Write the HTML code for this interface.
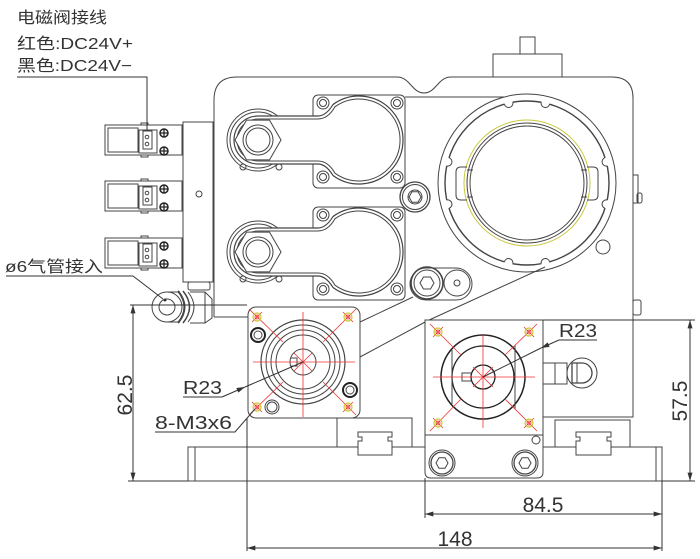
<!DOCTYPE html>
<html><head><meta charset="utf-8">
<style>html,body{margin:0;padding:0;background:#fff}svg{display:block}</style>
</head>
<body>
<svg width="700" height="559" viewBox="0 0 700 559" xmlns="http://www.w3.org/2000/svg">
<defs>
<marker id="a" viewBox="0 0 10 6" refX="10" refY="3" markerWidth="9" markerHeight="5" markerUnits="userSpaceOnUse" orient="auto-start-reverse"><path d="M0,0 L10,3 L0,6 z" fill="#333"/></marker>
</defs>
<rect width="700" height="559" fill="#fff"/>

<!-- base -->
<g fill="none" stroke="#444" stroke-width="1">
<rect x="188" y="447" width="474" height="34"/>
<line x1="195" y1="447" x2="195" y2="481"/>
<line x1="656" y1="447" x2="656" y2="481"/>
<!-- rails -->
<rect x="337" y="418" width="75" height="29" fill="#fff"/>
<path d="M358,432 H392 V437 H388 V441 H392 V455 H358 V441 H362 V437 H358 Z" fill="#fff"/>
<rect x="555" y="420" width="75" height="27" fill="#fff"/>
<path d="M576,432 H611 V437 H607 V441 H611 V455 H576 V441 H580 V437 H576 Z" fill="#fff"/>

<!-- main body outline -->
<path d="M214,317 V100 Q214,77 237,77 H397 C410,77 412,93 424,93 C436,93 438,77 451,77 H612 Q633,77 633,98 V417 H543"/>
<line x1="214" y1="317" x2="248" y2="317"/>
<line x1="405" y1="97" x2="504" y2="97"/>
<rect x="633" y="175" width="5" height="28"/>
<rect x="637" y="193" width="5" height="10" rx="2"/>
<rect x="633" y="300" width="8" height="15" rx="2"/>
<!-- top boss -->
<rect x="493" y="54" width="69" height="23"/>
<rect x="520" y="37" width="15" height="17"/>

<!-- arm 1 -->
<circle cx="258" cy="140" r="31"/>
<circle cx="258" cy="140" r="28"/>
<circle cx="243" cy="167" r="3"/><circle cx="279" cy="167" r="3"/>
<rect x="313" y="95" width="92" height="93" rx="5"/>
<circle cx="323" cy="103" r="6"/><circle cx="323" cy="103" r="3.5"/>
<circle cx="397" cy="103" r="6"/><circle cx="397" cy="103" r="3.5"/>
<circle cx="323" cy="177" r="6"/><circle cx="323" cy="177" r="3.5"/>
<circle cx="397" cy="177" r="6"/><circle cx="397" cy="177" r="3.5"/>
<path d="M258,116 H318 Q326,116 333,104.5 A44,44 0 1 1 333,175.5 Q326,164 318,164 H258 A24,24 0 0 1 258,116 Z" fill="#fff" stroke-width="1.2"/>
<path d="M258,119 H318 Q328,119 335,106.8 A41,41 0 1 1 335,173.2 Q328,161 318,161 H258 A21,21 0 0 1 258,119 Z"/>
<polygon points="281,140 269.5,120.1 246.5,120.1 235,140 246.5,159.9 269.5,159.9" fill="#fff"/>
<circle cx="258" cy="140" r="15"/><circle cx="258" cy="140" r="12"/>

<!-- arm 2 -->
<circle cx="258" cy="252" r="31"/>
<circle cx="258" cy="252" r="28"/>
<circle cx="243" cy="279" r="3"/><circle cx="279" cy="279" r="3"/>
<rect x="313" y="207" width="92" height="93" rx="5"/>
<circle cx="323" cy="215" r="6"/><circle cx="323" cy="215" r="3.5"/>
<circle cx="397" cy="215" r="6"/><circle cx="397" cy="215" r="3.5"/>
<circle cx="323" cy="289" r="6"/><circle cx="323" cy="289" r="3.5"/>
<circle cx="397" cy="289" r="6"/><circle cx="397" cy="289" r="3.5"/>
<path d="M258,228 H318 Q326,228 333,216.5 A44,44 0 1 1 333,287.5 Q326,276 318,276 H258 A24,24 0 0 1 258,228 Z" fill="#fff" stroke-width="1.2"/>
<path d="M258,231 H318 Q328,231 335,218.8 A41,41 0 1 1 335,285.2 Q328,273 318,273 H258 A21,21 0 0 1 258,231 Z"/>
<polygon points="281,252 269.5,232.1 246.5,232.1 235,252 246.5,271.9 269.5,271.9" fill="#fff"/>
<circle cx="258" cy="252" r="15"/><circle cx="258" cy="252" r="12"/>

<!-- screws -->
<circle cx="415" cy="197" r="15" stroke-width="1.3"/>
<circle cx="415" cy="197" r="12.5"/>
<circle cx="415" cy="197" r="7"/>
<polygon points="421,197 418,191.8 412,191.8 409,197 412,202.2 418,202.2"/>
<rect x="410" y="268" width="62" height="32" rx="16"/>
<circle cx="427" cy="283" r="16" stroke-width="1.6"/>
<circle cx="427" cy="283" r="13"/>
<polygon points="434,283 430.5,277 423.5,277 420,283 423.5,289 430.5,289"/>
<circle cx="457" cy="283" r="13"/>
<circle cx="457" cy="283" r="3"/>

<!-- housing -->
<circle cx="527" cy="183" r="89"/>
<circle cx="527" cy="183" r="82" stroke-width="1.4"/>
</g>
<g fill="#fff" stroke="none">
<circle cx="545.4" cy="103.1" r="4.2"/><circle cx="508.6" cy="103.1" r="4.2"/>
<circle cx="545.4" cy="262.9" r="4.2"/><circle cx="508.6" cy="262.9" r="4.2"/>
<circle cx="606.2" cy="161.8" r="4.2"/><circle cx="606.2" cy="204.2" r="4.2"/>
<circle cx="447.8" cy="161.8" r="4.2"/><circle cx="447.8" cy="204.2" r="4.2"/>
</g>
<g fill="none" stroke="#444" stroke-width="1">
<path d="M541.2,102.2 A4.3,4.3 0 0 0 549.6,104.2"/>
<path d="M504.4,104.2 A4.3,4.3 0 0 0 512.8,102.2"/>
<path d="M549.6,261.8 A4.3,4.3 0 0 0 541.2,263.8"/>
<path d="M512.8,263.8 A4.3,4.3 0 0 0 504.4,261.8"/>
<path d="M605,157.7 A4.3,4.3 0 0 0 607.2,166"/>
<path d="M607.2,200 A4.3,4.3 0 0 0 605,208.3"/>
<path d="M449,208.3 A4.3,4.3 0 0 0 446.8,200"/>
<path d="M446.8,166 A4.3,4.3 0 0 0 449,157.7"/>
<circle cx="527" cy="183" r="63" stroke="#c8c83c"/>
<circle cx="527" cy="183" r="60"/>
<circle cx="527" cy="183" r="57"/>
<path d="M467,167 H461 Q456,167 456,172 V195 Q456,200 461,200 H467"/>
<path d="M587,167 H593 Q598,167 598,172 V195 Q598,200 593,200 H587"/>
<line x1="467" y1="170" x2="473" y2="170"/><line x1="467" y1="197" x2="473" y2="197"/>
<line x1="581" y1="170" x2="587" y2="170"/><line x1="581" y1="197" x2="587" y2="197"/>
<circle cx="603" cy="247" r="7"/>

<!-- body lower diagonals -->
<line x1="360" y1="322" x2="413" y2="297"/>
<polyline points="360,357 427,321 545,267"/>

<!-- manifold -->
<rect x="183" y="122" width="30" height="160"/>
<circle cx="199" cy="194" r="3"/>
<rect x="188" y="282" width="22" height="8" rx="2"/>
</g>

<!-- connectors -->
<g fill="none" stroke="#444" stroke-width="1">
<g>
<rect x="105" y="125" width="77" height="30"/>
<rect x="108" y="128" width="30" height="24"/>
<rect x="139" y="130" width="18" height="23"/>
<rect x="143" y="131" width="9" height="18"/>
<circle cx="147" cy="137" r="1.8"/><circle cx="147" cy="144" r="1.8"/>
<rect x="141" y="123" width="7" height="2"/><rect x="141" y="155" width="7" height="2"/>
</g>
<g>
<rect x="105" y="181" width="77" height="30"/>
<rect x="108" y="184" width="30" height="24"/>
<rect x="139" y="186" width="18" height="23"/>
<rect x="143" y="187" width="9" height="18"/>
<circle cx="147" cy="193" r="1.8"/><circle cx="147" cy="200" r="1.8"/>
<rect x="141" y="179" width="7" height="2"/><rect x="141" y="211" width="7" height="2"/>
</g>
<g>
<rect x="105" y="238" width="77" height="30"/>
<rect x="108" y="241" width="30" height="24"/>
<rect x="139" y="243" width="18" height="23"/>
<rect x="143" y="244" width="9" height="18"/>
<circle cx="147" cy="250" r="1.8"/><circle cx="147" cy="257" r="1.8"/>
<rect x="141" y="236" width="7" height="2"/><rect x="141" y="268" width="7" height="2"/>
</g>
</g>
<g fill="#fff" stroke="#222" stroke-width="1.5">
<circle cx="164" cy="133" r="4"/><circle cx="164" cy="151" r="4"/>
<circle cx="164" cy="189" r="4"/><circle cx="164" cy="207" r="4"/>
<circle cx="164" cy="246" r="4"/><circle cx="164" cy="264" r="4"/>
</g>
<g stroke="#222" stroke-width="1.3">
<path d="M160,133h8M164,129v8M160,151h8M164,147v8M160,189h8M164,185v8M160,207h8M164,203v8M160,246h8M164,242v8M160,264h8M164,260v8"/>
</g>

<!-- fitting -->
<g fill="none" stroke="#444" stroke-width="1">
<path d="M190,292 H205 L212,299 V318 L205,323 H190" fill="#fff"/>
<line x1="205" y1="292" x2="205" y2="323"/>
<path d="M167,292 H180 M167,322 H180"/>
<path d="M178,291 Q191,307 178,323" stroke-width="2"/>
<path d="M183,291 Q196,307 183,323" stroke-width="1.5"/>
<path d="M188,292 Q200,307 188,322"/>
<circle cx="167" cy="307" r="15" fill="#fff"/>
<circle cx="167" cy="307" r="8"/>
</g>
<circle cx="165" cy="300" r="1.5" fill="#333"/>

<!-- left plate -->
<g fill="none" stroke="#444" stroke-width="1">
<rect x="248" y="307" width="112" height="111" rx="8" fill="#fff"/>
<circle cx="303" cy="362" r="42" stroke-width="1.2"/>
<circle cx="303" cy="362" r="37"/>
<circle cx="303" cy="362" r="32"/>
<circle cx="303" cy="362" r="27"/>
<circle cx="303" cy="362" r="13"/>
<path d="M291,358 H297 V366 H291"/>
<circle cx="258" cy="335" r="7" stroke="#222" stroke-width="2"/>
<circle cx="258" cy="335" r="4"/>
<circle cx="350" cy="390" r="7" stroke="#222" stroke-width="2"/>
<circle cx="350" cy="390" r="4"/>
<circle cx="272" cy="407" r="7"/>
<circle cx="272" cy="407" r="5"/>
</g>
<g fill="none" stroke="#f03030" stroke-width="0.8">
<line x1="253" y1="362" x2="355" y2="362"/>
<line x1="303" y1="312" x2="303" y2="417"/>
<line x1="249" y1="309" x2="283" y2="342"/>
<line x1="356" y1="309" x2="323" y2="342"/>
<line x1="249" y1="415" x2="283" y2="382"/>
<line x1="356" y1="415" x2="323" y2="382"/>
<line x1="294" y1="353" x2="312" y2="371"/>
<line x1="312" y1="353" x2="294" y2="371"/>
<line x1="252" y1="322" x2="262" y2="312"/>
<line x1="343" y1="312" x2="353" y2="322"/>
<line x1="252" y1="402" x2="262" y2="412"/>
<line x1="343" y1="412" x2="353" y2="402"/>
<circle cx="257" cy="317" r="2"/><circle cx="348" cy="317" r="2"/>
<circle cx="257" cy="407" r="2"/><circle cx="348" cy="407" r="2"/>
</g>
<g fill="none" stroke="#c8c830" stroke-width="1.2">
<circle cx="257" cy="317" r="4"/><circle cx="348" cy="317" r="4"/>
<circle cx="257" cy="407" r="4"/><circle cx="348" cy="407" r="4"/>
</g>

<!-- right plate -->
<g fill="none" stroke="#444" stroke-width="1">
<path d="M425,320 H543 V472 Q543,478 537,478 H431 Q425,478 425,472 Z" fill="#fff"/>
<line x1="425" y1="435" x2="543" y2="435"/>
<circle cx="483" cy="377" r="42" stroke="#222" stroke-width="1.5"/>
<circle cx="483" cy="377" r="31" stroke="#222" stroke-width="1.3"/>
<circle cx="483" cy="377" r="12" stroke="#222" stroke-width="1.3"/>
<line x1="452" y1="350" x2="452" y2="404"/>
<line x1="515" y1="345" x2="515" y2="409"/>
<path d="M471,373 H462 V381 H471"/>
<circle cx="442" cy="463" r="13"/><circle cx="442" cy="463" r="11" stroke-width="1.3"/>
<polygon points="448,463 445,457.8 439,457.8 436,463 439,468.2 445,468.2"/>
<circle cx="525" cy="463" r="13"/><circle cx="525" cy="463" r="11" stroke-width="1.3"/>
<polygon points="531,463 528,457.8 522,457.8 519,463 522,468.2 528,468.2"/>
<circle cx="536" cy="440" r="4"/>
<!-- knob -->
<rect x="543" y="363" width="24" height="21"/>
<line x1="555" y1="363" x2="555" y2="384"/>
<circle cx="582" cy="373" r="15"/>
<path d="M572,363 H582 A10,10 0 0 1 582,383 H572 Z" stroke-width="1.3"/>
<line x1="577" y1="363" x2="577" y2="383"/>
</g>
<g fill="none" stroke="#f03030" stroke-width="0.8">
<line x1="433" y1="377" x2="535" y2="377"/>
<line x1="483" y1="334" x2="483" y2="428"/>
<line x1="430" y1="324" x2="461" y2="355"/>
<line x1="537" y1="324" x2="505" y2="355"/>
<line x1="430" y1="431" x2="461" y2="399"/>
<line x1="537" y1="431" x2="505" y2="399"/>
<line x1="473" y1="367" x2="493" y2="387"/>
<line x1="493" y1="367" x2="473" y2="387"/>
<line x1="433" y1="337" x2="443" y2="327"/>
<line x1="524" y1="327" x2="534" y2="337"/>
<line x1="433" y1="418" x2="443" y2="428"/>
<line x1="524" y1="428" x2="534" y2="418"/>
<circle cx="438" cy="332" r="2"/><circle cx="529" cy="332" r="2"/>
<circle cx="438" cy="423" r="2"/><circle cx="529" cy="423" r="2"/>
</g>
<g fill="none" stroke="#c8c830" stroke-width="1.2">
<circle cx="438" cy="332" r="4"/><circle cx="529" cy="332" r="4"/>
<circle cx="438" cy="423" r="4"/><circle cx="529" cy="423" r="4"/>
</g>

<!-- leaders and dimensions -->
<g fill="none" stroke="#333" stroke-width="1">
<polyline points="17,77 147,77 147,131"/>
<polyline points="6,276 133,276 163,299"/>
<!-- 62.5 -->
<line x1="130" y1="305" x2="247" y2="305"/>
<line x1="128" y1="481" x2="188" y2="481"/>
<line x1="133" y1="305" x2="133" y2="481" marker-start="url(#a)" marker-end="url(#a)"/>
<!-- 57.5 -->
<line x1="543" y1="320" x2="695" y2="320"/>
<line x1="662" y1="481" x2="695" y2="481"/>
<line x1="690" y1="320" x2="690" y2="481" marker-start="url(#a)" marker-end="url(#a)"/>
<!-- 84.5 -->
<line x1="425" y1="478" x2="425" y2="518"/>
<line x1="662" y1="481" x2="662" y2="551"/>
<line x1="425" y1="514" x2="662" y2="514" marker-start="url(#a)" marker-end="url(#a)"/>
<!-- 148 -->
<line x1="247" y1="418" x2="247" y2="551"/>
<line x1="247" y1="548" x2="662" y2="548" marker-start="url(#a)" marker-end="url(#a)"/>
<!-- R23 left -->
<line x1="183" y1="397" x2="222" y2="397"/>
<line x1="222" y1="397" x2="245" y2="387" marker-end="url(#a)"/>
<line x1="245" y1="387" x2="303" y2="362"/>
<!-- 8-M3x6 -->
<polyline points="155,432 235,432 255,409"/>
<!-- R23 right -->
<line x1="559" y1="340" x2="597" y2="340"/>
<line x1="483" y1="377" x2="541" y2="348"/>
<line x1="559" y1="340" x2="541" y2="348" marker-end="url(#a)"/>
</g>

<!-- text -->
<g fill="#333" font-family="'Liberation Sans','Noto Sans CJK SC',sans-serif">
<text x="17" y="23" font-size="16" textLength="90" lengthAdjust="spacingAndGlyphs">电磁阀接线</text>
<text x="17" y="49" font-size="16" textLength="116" lengthAdjust="spacingAndGlyphs">红色:DC24V+</text>
<text x="17" y="71" font-size="16" textLength="115" lengthAdjust="spacingAndGlyphs">黑色:DC24V−</text>
<text x="5" y="272" font-size="16" textLength="98" lengthAdjust="spacingAndGlyphs">ø6气管接入</text>
<text x="183" y="394" font-size="18" textLength="39" lengthAdjust="spacingAndGlyphs">R23</text>
<text x="155" y="429" font-size="18" textLength="77" lengthAdjust="spacingAndGlyphs">8-M3x6</text>
<text x="559" y="337" font-size="18" textLength="38" lengthAdjust="spacingAndGlyphs">R23</text>
<text x="543" y="512" font-size="21" text-anchor="middle">84.5</text>
<text x="455" y="546" font-size="21" text-anchor="middle">148</text>
<text transform="translate(132,395) rotate(-90)" font-size="21" text-anchor="middle">62.5</text>
<text transform="translate(687,401) rotate(-90)" font-size="21" text-anchor="middle">57.5</text>
</g>
</svg>
</body></html>
